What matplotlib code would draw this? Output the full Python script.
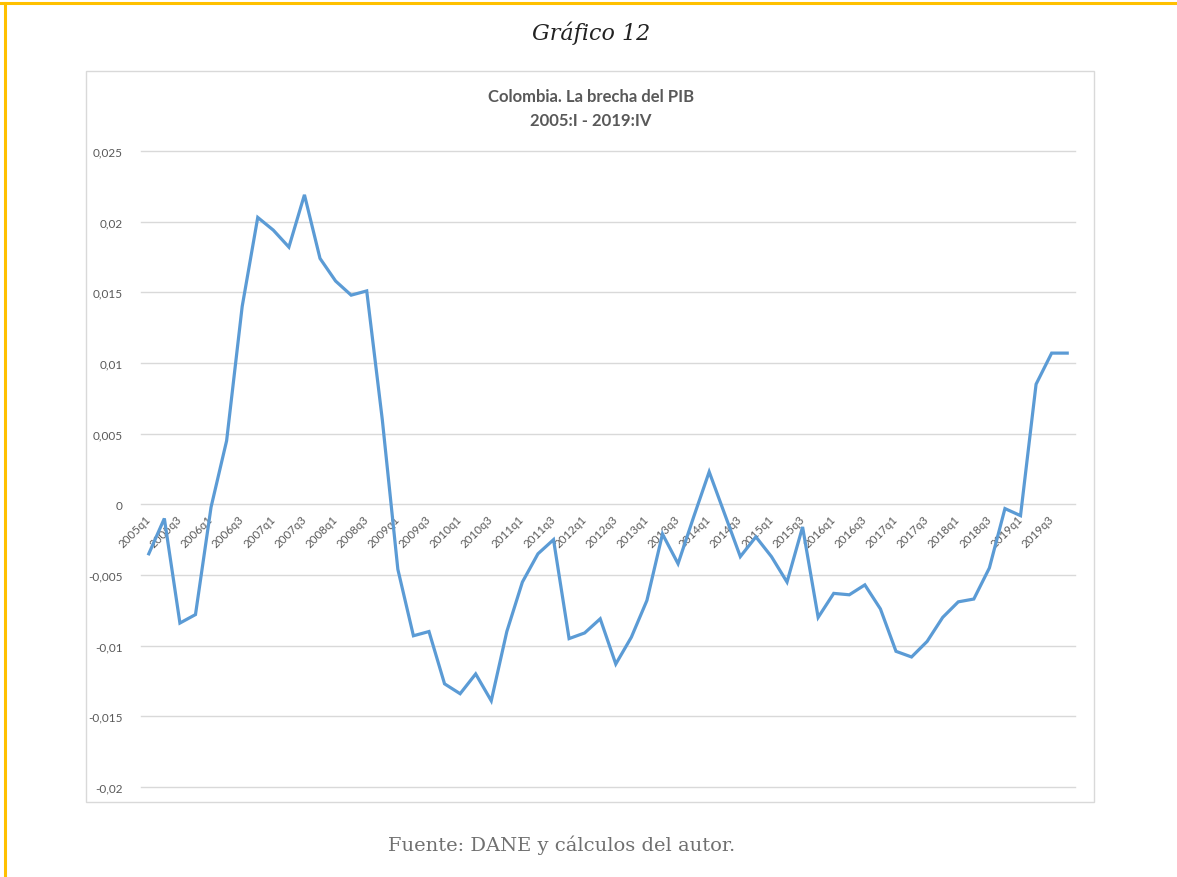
"""
Gráfico 12 - Colombia, la brecha del PIB 2005:I - 2019:IV
"""

import matplotlib
matplotlib.use('Agg')
import matplotlib.pyplot as plt
from matplotlib.lines import Line2D
from matplotlib.patches import Rectangle
from matplotlib.ticker import FuncFormatter

# Trimestres 2005q1 .. 2019q4
quarters = [f"{y}q{q}" for y in range(2005, 2020) for q in range(1, 5)]

# Brecha del PIB
gap = [
    -0.0035, -0.0010, -0.0084, -0.0078, -0.0002, 0.0045, 0.0140, 0.0203,
    0.0194, 0.0182, 0.0219, 0.0174, 0.0158, 0.0148, 0.0151, 0.0060,
    -0.0046, -0.0093, -0.0090, -0.0127, -0.0134, -0.0120, -0.0139, -0.0090,
    -0.0055, -0.0035, -0.0025, -0.0095, -0.0091, -0.0081, -0.0113, -0.0094,
    -0.0068, -0.0021, -0.0042, -0.0009, 0.0023, -0.0007, -0.0037, -0.0023,
    -0.0037, -0.0055, -0.0016, -0.0080, -0.0063, -0.0064, -0.0057, -0.0074,
    -0.0104, -0.0108, -0.0097, -0.0080, -0.0069, -0.0067, -0.0045, -0.0003,
    -0.0008, 0.0085, 0.0107, 0.0107,
]

y_ticks = [-0.02, -0.015, -0.01, -0.005, 0, 0.005, 0.01, 0.015, 0.02, 0.025]

W, H = 1177, 878
fig = plt.figure(figsize=(W / 100, H / 100), dpi=100)
fig.patch.set_facecolor('white')

# Marco amarillo (arriba e izquierda)
fig.add_artist(Line2D([0, 1], [1 - 4 / H, 1 - 4 / H], color='#FFC000', lw=2.2,
                      transform=fig.transFigure))
fig.add_artist(Line2D([5 / W, 5 / W], [0, 1 - 4 / H], color='#FFC000', lw=2.2,
                      transform=fig.transFigure))

# Borde del área del gráfico
fig.add_artist(Rectangle((86 / W, 1 - 803 / H), (1094 - 86) / W, (803 - 72) / H,
                         transform=fig.transFigure, fill=False,
                         edgecolor='#D9D9D9', lw=1))

fig.text(591 / W, 1 - 33 / H, 'Gráfico 12', ha='center', va='center',
         fontsize=16, style='italic', family='DejaVu Serif', color='#222222')
fig.text(591 / W, 1 - 97 / H, 'Colombia. La brecha del PIB', ha='center',
         va='center', fontsize=12, weight='bold', family='Lato', color='#595959')
fig.text(591 / W, 1 - 121 / H, '2005:I - 2019:IV', ha='center',
         va='center', fontsize=12, weight='bold', family='Lato', color='#595959')
fig.text(562 / W, 1 - 845 / H, 'Fuente: DANE y cálculos del autor.',
         ha='center', va='center', fontsize=14, family='DejaVu Serif',
         color='#707070')

ax = fig.add_axes([141 / W, 1 - 788 / H, (1075 - 141) / W, (788 - 152) / H])
x = list(range(len(quarters)))
ax.plot(x, gap, color='#5B9BD5', lw=2.3, solid_joinstyle='miter')

ax.set_xlim(-0.5, len(quarters) - 0.5)
ax.set_ylim(-0.02, 0.025)
ax.set_yticks(y_ticks)
ax.yaxis.set_major_formatter(FuncFormatter(lambda v, p: f"{v:g}".replace('.', ',')))
ax.grid(axis='y', color='#D9D9D9', lw=1)
ax.set_axisbelow(True)
for gl in ax.get_ygridlines():
    gl.set_clip_on(False)

for s in ax.spines.values():
    s.set_visible(False)
ax.spines['bottom'].set_position(('data', 0))

ax.set_xticks(x[::2])
ax.set_xticklabels(quarters[::2], rotation=45, ha='right', va='center',
                   rotation_mode='anchor', family='Lato', fontsize=8.3,
                   color='#595959')
ax.tick_params(axis='x', length=0, pad=9)
ax.tick_params(axis='y', length=0, pad=13, labelsize=8.5, labelcolor='#595959')
for t in ax.get_yticklabels():
    t.set_family('Lato')

fig.savefig('out.png', dpi=100, facecolor='white')
